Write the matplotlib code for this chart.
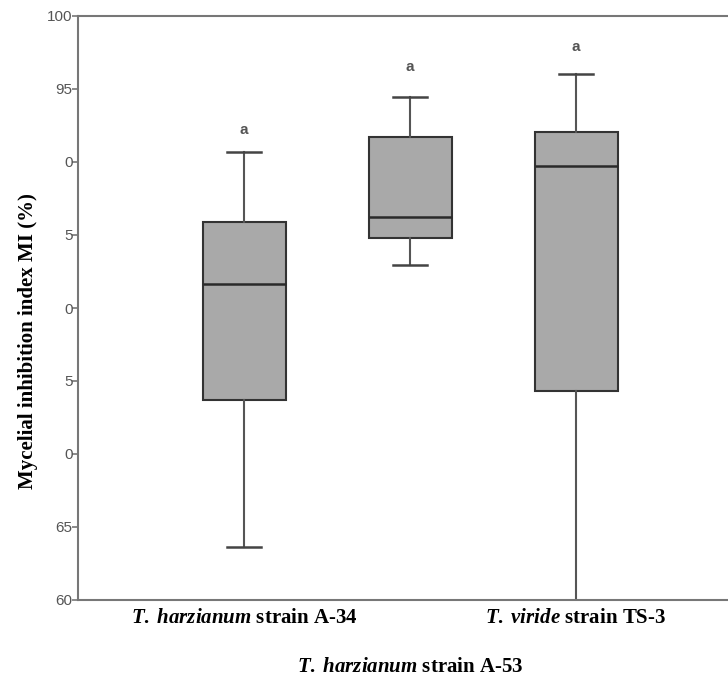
import matplotlib
matplotlib.use("Agg")
import matplotlib.pyplot as plt
import matplotlib.transforms as mtransforms

# data
groups = ["A-34", "A-53", "TS-3"]
whislo = [63.6, 82.95, 60.0]
q1 = [73.7, 84.8, 74.3]
med = [81.65, 86.25, 89.75]
q3 = [85.9, 91.7, 92.05]
whishi = [90.7, 94.45, 96.0]
letters = ["a", "a", "a"]
letter_y = [92.2, 96.5, 97.9]
yticks = [60, 65, 70, 75, 80, 85, 90, 95, 100]
ytick_text = ["60", "65", "0", "5", "0", "5", "0", "95", "100"]
xtick_text = [r"$\mathit{T.\;harzianum}$ strain A-34",
              r"$\mathit{T.\;harzianum}$ strain A-53",
              r"$\mathit{T.\;viride}$ strain TS-3"]

plt.rcParams['mathtext.fontset'] = 'custom'
plt.rcParams['mathtext.it'] = 'Liberation Serif:italic:bold'
plt.rcParams['mathtext.rm'] = 'Liberation Serif:bold'

fig = plt.figure(figsize=(7.28, 6.80), dpi=100)
ax = fig.add_axes([78/728, 80/680, 1 - 78/728, 584/680])

stats = []
for i in range(len(groups)):
    stats.append(dict(label=groups[i], whislo=whislo[i], q1=q1[i], med=med[i],
                      q3=q3[i], whishi=whishi[i], fliers=[]))
pos = [1, 2, 3]
ax.bxp(stats, positions=pos, widths=0.5, patch_artist=True, showfliers=False,
       boxprops=dict(facecolor="#a9a9a9", edgecolor="#333333", linewidth=1.5),
       medianprops=dict(color="#2a2a2a", linewidth=1.8),
       whiskerprops=dict(color="#555555", linewidth=1.5),
       capprops=dict(color="#444444", linewidth=1.8), capwidths=0.2)

for p, t, y in zip(pos, letters, letter_y):
    ax.text(p, y, t, ha="center", va="center", fontsize=11, color="#555555",
            family="Liberation Sans", fontweight="bold")

ax.set_xlim(0, 650/166)
ax.set_ylim(60, 100)
ax.set_yticks(yticks)
ax.set_yticklabels(ytick_text, family="Liberation Sans", fontsize=11, color="#555555")

# first and third labels on the tick row, the middle one a row lower
ax.set_xticks([pos[0], pos[2]])
ax.set_xticklabels([xtick_text[0], xtick_text[2]], family="Liberation Serif",
                   fontweight="bold", fontsize=15)
trans = mtransforms.blended_transform_factory(ax.transData, ax.transAxes)
ax.text(pos[1], -67/584, xtick_text[1], transform=trans, ha="center", va="center",
        family="Liberation Serif", fontweight="bold", fontsize=15)

ax.tick_params(axis="x", length=0, pad=6)
ax.tick_params(axis="y", length=4, width=1.2, color="#777777", pad=0)
for s in ["left", "bottom", "top"]:
    ax.spines[s].set_color("#777777")
    ax.spines[s].set_linewidth(1.5)
ax.spines["right"].set_visible(False)

fig.text(28/728, 1 - 341/680, "Mycelial inhibition index MI (%)", rotation=90,
         ha="center", va="center", family="Liberation Serif", fontweight="bold",
         fontsize=15)

fig.savefig("out.png", dpi=100)
